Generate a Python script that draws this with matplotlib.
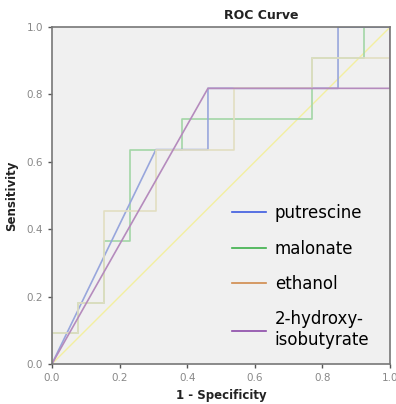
import matplotlib
matplotlib.use('Agg')
import matplotlib.pyplot as plt
from matplotlib.lines import Line2D

# ROC points (1 - specificity, sensitivity); 13 negatives, 11 positives
putrescine_x = [0, 4/13, 6/13, 6/13, 11/13, 11/13, 1]
putrescine_y = [0, 7/11, 7/11, 9/11, 9/11, 1, 1]

malonate_x = [0, 0, 1/13, 1/13, 2/13, 2/13, 3/13, 3/13, 5/13, 5/13, 10/13, 10/13, 12/13, 12/13, 1]
malonate_y = [0, 1/11, 1/11, 2/11, 2/11, 4/11, 4/11, 7/11, 7/11, 8/11, 8/11, 10/11, 10/11, 1, 1]

ethanol_x = [0, 0, 1/13, 1/13, 2/13, 2/13, 4/13, 4/13, 7/13, 7/13, 10/13, 10/13, 1, 1]
ethanol_y = [0, 1/11, 1/11, 2/11, 2/11, 5/11, 5/11, 7/11, 7/11, 9/11, 9/11, 10/11, 10/11, 1]

hib_x = [0, 6/13, 1, 1]
hib_y = [0, 9/11, 9/11, 1]

ref_x = [0, 1]
ref_y = [0, 1]

ticks = [0.0, 0.2, 0.4, 0.6, 0.8, 1.0]

fig = plt.figure(figsize=(3.96, 4.04), dpi=100)
ax = fig.add_axes([0.131, 0.099, 0.854, 0.834])
ax.set_facecolor('#f0f0f0')

ax.plot(ref_x, ref_y, color='#f3efa0', lw=1.0)
ax.plot(malonate_x, malonate_y, color='#a3d6a6', lw=1.2)
ax.plot(putrescine_x, putrescine_y, color='#98a6dc', lw=1.2)
ax.plot(ethanol_x, ethanol_y, color='#e2dec2', lw=1.2)
ax.plot(hib_x, hib_y, color='#b58bbd', lw=1.2)

ax.set_xlim(0, 1)
ax.set_ylim(0, 1)
ax.set_xticks(ticks)
ax.set_yticks(ticks)
ax.set_xticklabels([f'{t:.1f}' for t in ticks])
ax.set_yticklabels([f'{t:.1f}' for t in ticks])
ax.tick_params(labelsize=7.5, labelcolor='#888888', color='#555555',
               length=3, width=1)
for s in ax.spines.values():
    s.set_color('#777777')
    s.set_linewidth(1.2)

ax.set_title('ROC Curve', fontsize=9, fontweight='bold', color='#222222',
             x=0.62, pad=6)
ax.set_xlabel('1 - Specificity', fontsize=8.5, fontweight='bold', color='#222222', labelpad=4)
ax.set_ylabel('Sensitivity', fontsize=8.5, fontweight='bold', color='#222222', labelpad=6)

handles = [Line2D([], [], color='#3c5ae0', lw=1.2),
           Line2D([], [], color='#3cb04a', lw=1.2),
           Line2D([], [], color='#d08a4c', lw=1.2),
           Line2D([], [], color='#8c4aa8', lw=1.2)]
labels = ['putrescine', 'malonate', 'ethanol', '2-hydroxy-\nisobutyrate']
ax.legend(handles, labels, loc='lower left', bbox_to_anchor=(0.489, 0.0),
          frameon=False, fontsize=12, labelspacing=1.04,
          handlelength=2.05, handletextpad=0.5)

plt.savefig('out.png', dpi=100)
